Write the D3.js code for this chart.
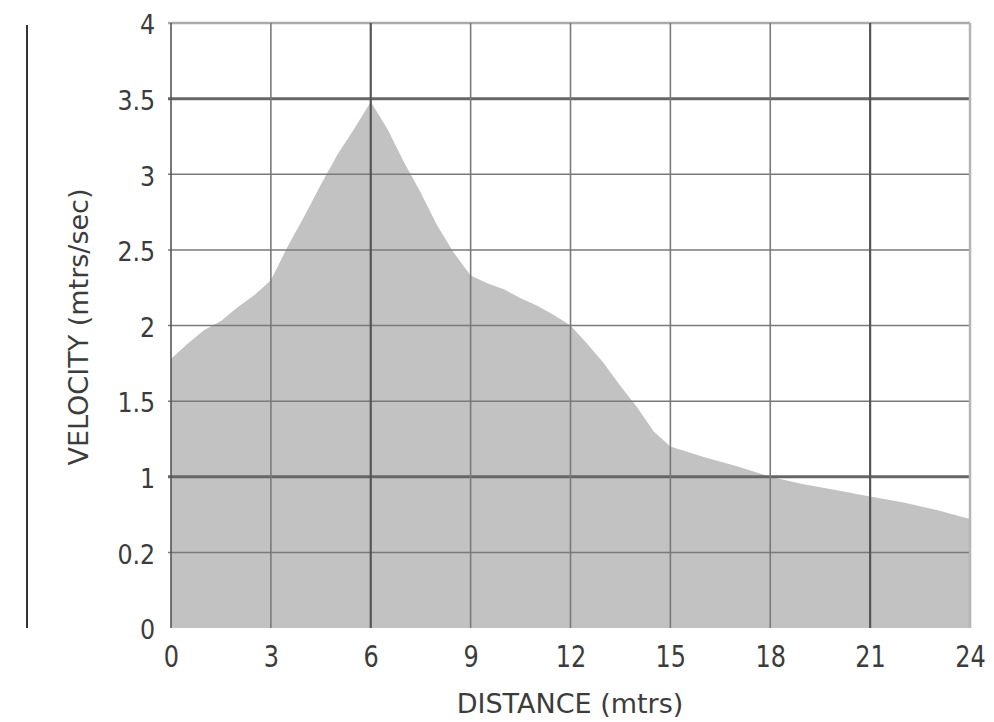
<!DOCTYPE html>
<html>
<head>
<meta charset="utf-8">
<script src="https://cdn.jsdelivr.net/npm/d3@7"></script>
<style>
  body { margin: 0; background: #fff; }
  svg text { font-family: "DejaVu Sans", "Open Sans", sans-serif; fill: #3c3c3c; }
</style>
</head>
<body>
<div id="canvas"></div>
<script>
"use strict";

/* Data: distance (mtrs) vs velocity (mtrs/sec) */
const distance = [0, 0.5, 1, 1.5, 2, 2.5, 3, 3.5, 4, 4.5, 5, 5.5, 6, 6.5, 7, 7.5, 8, 8.5, 9,
  9.5, 10, 10.5, 11, 11.5, 12, 12.5, 13, 13.5, 14, 14.5, 15, 16, 17, 18, 19, 20, 21, 22, 23, 24];
const velocity = [1.78, 1.88, 1.97, 2.03, 2.12, 2.2, 2.3, 2.52, 2.72, 2.93, 3.13, 3.3, 3.48, 3.3, 3.08, 2.88, 2.66, 2.48, 2.33,
  2.28, 2.24, 2.18, 2.13, 2.07, 2.0, 1.88, 1.75, 1.6, 1.46, 1.3, 1.2, 1.13, 1.07, 1.0, 0.95, 0.91, 0.87, 0.83, 0.78, 0.72];

// tick values and the labels printed on them (the picture labels 0.5 as "0.2")
const xTicks = [0, 3, 6, 9, 12, 15, 18, 21, 24];
const yTicks = [0, 0.5, 1, 1.5, 2, 2.5, 3, 3.5, 4];
const yTickLabels = ["0", "0.2", "1", "1.5", "2", "2.5", "3", "3.5", "4"];
const yStrong = [1, 3.5];   // heavier horizontal rules
const xStrong = [6, 21];    // darker vertical rules

const svgWidth = 994;
const svgHeight = 722;
const plotLeft = 171, plotRight = 970, plotTop = 23, plotBottom = 628;

const svg = d3.select("#canvas")
  .append("svg")
  .attr("width", svgWidth)
  .attr("height", svgHeight);

const xScale = d3.scaleLinear().domain([0, 24]).range([plotLeft, plotRight]);
const yScale = d3.scaleLinear().domain([0, 4]).range([plotBottom, plotTop]);

const points = distance.map((d, i) => ({ x: d, y: velocity[i] }));

// filled area
const area = d3.area()
  .x(d => xScale(d.x))
  .y0(yScale(0))
  .y1(d => yScale(d.y));

svg.append("path")
  .datum(points)
  .attr("d", area)
  .attr("fill", "#c2c2c2");

// grid (drawn over the area)
const grid = svg.append("g");

grid.selectAll("line.h")
  .data(yTicks.filter(v => v > 0))
  .enter()
  .append("line")
  .attr("x1", plotLeft - 3).attr("x2", plotRight)
  .attr("y1", d => yScale(d)).attr("y2", d => yScale(d))
  .attr("stroke", d => d === 4 ? "#aaa" : (yStrong.includes(d) ? "#666" : "#7a7a7a"))
  .attr("stroke-width", d => d === 4 ? 2.5 : (yStrong.includes(d) ? 3 : 1.5));

grid.selectAll("line.v")
  .data(xTicks)
  .enter()
  .append("line")
  .attr("x1", d => xScale(d)).attr("x2", d => xScale(d))
  .attr("y1", plotTop).attr("y2", plotBottom)
  .attr("stroke", d => d === 24 ? "#b5b5b5" : (xStrong.includes(d) || d === 0 ? "#555" : "#7a7a7a"))
  .attr("stroke-width", d => d === 24 ? 2.5 : (xStrong.includes(d) ? 2.2 : 1.6));

// axes (labels only, no domain / tick marks)
const xAxis = d3.axisBottom(xScale)
  .tickValues(xTicks)
  .tickSize(0)
  .tickPadding(18);

const gx = svg.append("g")
  .attr("transform", `translate(0,${plotBottom})`)
  .call(xAxis);
gx.select(".domain").remove();
gx.selectAll("text")
  .attr("font-size", "30px")
  .attr("fill", "#3c3c3c")
  .attr("transform", "scale(0.8,1)")
  .style("font-family", "'DejaVu Sans', sans-serif");

const yAxis = d3.axisLeft(yScale)
  .tickValues(yTicks)
  .tickFormat((d, i) => yTickLabels[i])
  .tickSize(0)
  .tickPadding(18);

const gy = svg.append("g")
  .attr("transform", `translate(${plotLeft},0)`)
  .call(yAxis);
gy.select(".domain").remove();
gy.selectAll("text")
  .attr("font-size", "27px")
  .attr("fill", "#3c3c3c")
  .attr("dy", "0.4em")
  .attr("transform", "scale(0.88,1)")
  .style("font-family", "'DejaVu Sans', sans-serif");

// axis titles
svg.append("text")
  .attr("x", 570)
  .attr("y", 713)
  .attr("text-anchor", "middle")
  .attr("font-size", "27px")
  .text("DISTANCE (mtrs)");

svg.append("text")
  .attr("transform", "rotate(-90)")
  .attr("x", -327)
  .attr("y", 88)
  .attr("text-anchor", "middle")
  .attr("font-size", "27px")
  .text("VELOCITY (mtrs/sec)");

// vertical rule at far left
svg.append("line")
  .attr("x1", 27).attr("x2", 27)
  .attr("y1", 25).attr("y2", 628)
  .attr("stroke", "#333")
  .attr("stroke-width", 2);
</script>
</body>
</html>
